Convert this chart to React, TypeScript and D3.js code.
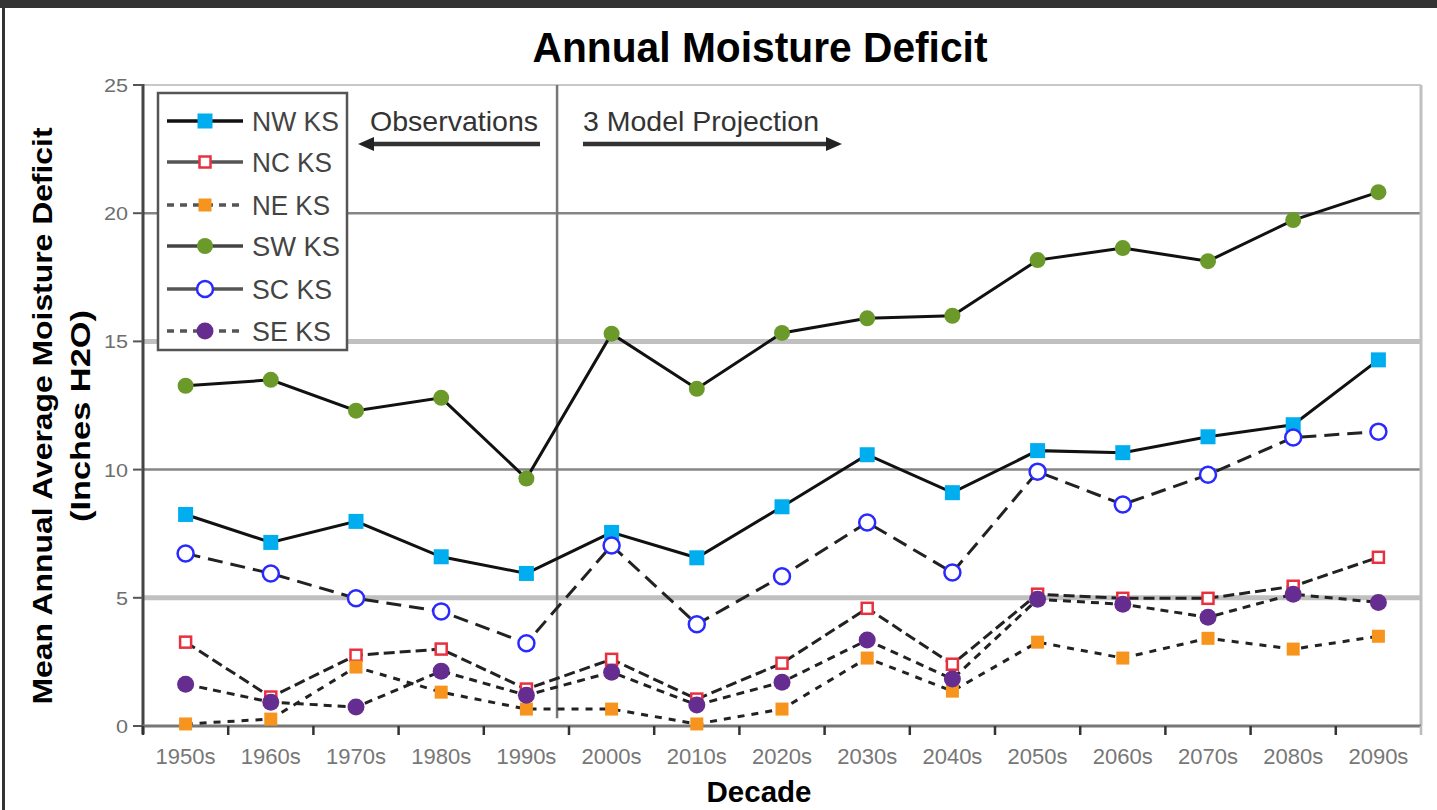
import React from 'react';
import * as d3 from 'd3';

// decades on the x axis
const decades = ['1950s', '1960s', '1970s', '1980s', '1990s', '2000s', '2010s', '2020s',
  '2030s', '2040s', '2050s', '2060s', '2070s', '2080s', '2090s'];

// mean annual average moisture deficit (inches H2O)
const nwKS = [8.25, 7.16, 7.98, 6.6, 5.95, 7.55, 6.56, 8.55, 10.58, 9.1, 10.74, 10.66, 11.28, 11.75, 14.28];
const ncKS = [3.27, 1.13, 2.76, 3.0, 1.44, 2.6, 1.05, 2.45, 4.59, 2.41, 5.14, 4.98, 4.98, 5.45, 6.58];
const neKS = [0.08, 0.27, 2.3, 1.32, 0.66, 0.66, 0.08, 0.66, 2.65, 1.36, 3.27, 2.65, 3.42, 3.0, 3.5];
const swKS = [13.27, 13.5, 12.3, 12.8, 9.65, 15.3, 13.15, 15.33, 15.9, 16.0, 18.17, 18.64, 18.13, 19.73, 20.82];
const scKS = [6.73, 5.95, 4.98, 4.47, 3.23, 7.04, 3.97, 5.84, 7.94, 5.99, 9.92, 8.64, 9.8, 11.25, 11.48];
const seKS = [1.63, 0.93, 0.74, 2.14, 1.2, 2.1, 0.82, 1.71, 3.35, 1.83, 4.94, 4.75, 4.24, 5.14, 4.82];

const yTicks = [0, 5, 10, 15, 20, 25];
const seriesNames = ['NW KS', 'NC KS', 'NE KS', 'SW KS', 'SC KS', 'SE KS'];

const FONT = '"Liberation Sans", Arial, sans-serif';

const series = [
  { name: seriesNames[0], values: nwKS, shape: 'square', fill: '#00aeef', stroke: 'none', line: '#111', dash: null, legendLine: '#111', legendDash: null, size: 15 },
  { name: seriesNames[1], values: ncKS, shape: 'square', fill: '#fff', stroke: '#e8303f', line: '#222', dash: '11,5', legendLine: '#555', legendDash: null, size: 11 },
  { name: seriesNames[2], values: neKS, shape: 'square', fill: '#f7941d', stroke: 'none', line: '#222', dash: '7,7', legendLine: '#555', legendDash: '7,6', size: 13 },
  { name: seriesNames[3], values: swKS, shape: 'circle', fill: '#6b9a2b', stroke: 'none', line: '#111', dash: null, legendLine: '#444', legendDash: null, size: 8 },
  { name: seriesNames[4], values: scKS, shape: 'circle', fill: '#fff', stroke: '#2a2aff', line: '#222', dash: '15,8', legendLine: '#555', legendDash: null, size: 8 },
  { name: seriesNames[5], values: seKS, shape: 'circle', fill: '#662d91', stroke: 'none', line: '#222', dash: '8,6', legendLine: '#555', legendDash: '7,6', size: 8.5 },
];

function Marker({ s, cx, cy }) {
  if (s.shape === 'square') {
    const sw = s.stroke === 'none' ? 0 : 2.5;
    return <rect x={cx - s.size / 2} y={cy - s.size / 2} width={s.size} height={s.size}
      fill={s.fill} stroke={s.stroke} strokeWidth={sw} />;
  }
  const sw = s.stroke === 'none' ? 0 : 2.5;
  return <circle cx={cx} cy={cy} r={s.size} fill={s.fill} stroke={s.stroke} strokeWidth={sw} />;
}

function Txt({ x, y, size, len, children, weight = 'normal', fill = '#333', anchor = 'middle', transform = undefined }) {
  return (
    <text x={x} y={y} fontSize={size} fontWeight={weight} fill={fill} textAnchor={anchor}
      fontFamily={FONT} textLength={len} lengthAdjust="spacingAndGlyphs" transform={transform}>
      {children}
    </text>
  );
}

export default function App() {
  const W = 1437, H = 810;
  const left = 143, right = 1421, top = 85, bottom = 726;

  const x = d3.scaleBand().domain(decades).range([left, right]).paddingInner(0).paddingOuter(0);
  const y = d3.scaleLinear().domain([0, 25]).range([bottom, top]);
  const cx = (d: string) => (x(d) as number) + x.bandwidth() / 2;

  const line = d3.line<number>()
    .x((_, i) => cx(decades[i]))
    .y((v) => y(v));

  // divider between observations and projections, a bit past the 1990s
  const divX = cx('1990s') + x.bandwidth() * 0.36;

  const gridStyle = (t: number) => {
    if (t === 20 || t === 10) return { stroke: '#858585', width: 2.5 };
    if (t === 15 || t === 5) return { stroke: '#c0c0c0', width: 5 };
    return { stroke: '#c8c8c8', width: 2 };
  };

  const legendX = 158, legendY = 93, legendW = 189, legendH = 257;
  const legendRows = [121, 162, 205, 246, 289, 331];
  const legendLens = [87, 80, 78, 88, 80, 79];

  return (
    <svg width={W} height={H} style={{ display: 'block', position: 'absolute', left: 0, top: 0 }}>
      <rect x={0} y={0} width={W} height={H} fill="#fff" />
      {/* frame */}
      <rect x={0} y={0} width={W} height={8} fill="#333" />
      <rect x={2} y={0} width={3} height={H} fill="#333" />

      <Txt x={760} y={62} size={42} len={455} weight="bold" fill="#000">Annual Moisture Deficit</Txt>

      {/* gridlines */}
      {yTicks.filter((t) => t > 0).map((t) => {
        const g = gridStyle(t);
        return <line key={t} x1={left} x2={right} y1={y(t)} y2={y(t)} stroke={g.stroke} strokeWidth={g.width} />;
      })}
      <line x1={right} x2={right} y1={y(25)} y2={bottom} stroke="#c0c0c0" strokeWidth={3} />
      <line x1={divX} x2={divX} y1={y(25)} y2={y(0.3)} stroke="#777" strokeWidth={2.5} />

      {/* y axis */}
      <line x1={left} x2={left} y1={y(25) - 1} y2={bottom + 8} stroke="#444" strokeWidth={3} />
      {yTicks.map((t) => (
        <g key={t}>
          <line x1={left - 10} x2={left} y1={y(t)} y2={y(t)} stroke="#555" strokeWidth={2} />
          <Txt x={128} y={y(t) + 7} size={19} len={t < 10 ? 12 : 24} anchor="end" fill="#6e6e6e">{String(t)}</Txt>
        </g>
      ))}

      {/* x axis */}
      <line x1={left} x2={right} y1={bottom} y2={bottom} stroke="#777" strokeWidth={3} />
      {decades.map((d) => (
        <line key={d} x1={x(d)} x2={x(d)} y1={bottom} y2={bottom + 9} stroke="#333" strokeWidth={2.5} />
      ))}
      <line x1={right} x2={right} y1={bottom} y2={bottom + 9} stroke="#bbb" strokeWidth={2.5} />
      {decades.map((d) => (
        <Txt key={d} x={cx(d)} y={764} size={22} len={60} fill="#777">{d}</Txt>
      ))}

      <Txt x={759} y={802} size={30} len={105} weight="bold" fill="#000">Decade</Txt>
      <Txt x={0} y={0} size={27} len={577} weight="bold" fill="#000" transform="translate(52,416) rotate(-90)">Mean Annual Average Moisture Deficit</Txt>
      <Txt x={0} y={0} size={27} len={212} weight="bold" fill="#000" transform="translate(90,416) rotate(-90)">(Inches H2O)</Txt>

      {/* series lines */}
      {series.map((s) => (
        <path key={s.name} d={line(s.values) as string} fill="none" stroke={s.line}
          strokeWidth={3} strokeDasharray={s.dash || undefined} />
      ))}
      {/* markers */}
      {series.map((s) => (
        <g key={s.name}>
          {s.values.map((v, i) => <Marker key={i} s={s} cx={cx(decades[i])} cy={y(v)} />)}
        </g>
      ))}

      {/* annotations */}
      <Txt x={454} y={131} size={28} len={168}>Observations</Txt>
      <line x1={372} x2={540} y1={144} y2={144} stroke="#333" strokeWidth={4.5} />
      <path d="M358,144 L374,137 L374,151 Z" fill="#222" />
      <Txt x={701} y={131} size={28} len={236}>3 Model Projection</Txt>
      <line x1={583} x2={828} y1={144} y2={144} stroke="#333" strokeWidth={4.5} />
      <path d="M842,144 L826,137 L826,151 Z" fill="#222" />

      {/* legend */}
      <rect x={legendX} y={legendY} width={legendW} height={legendH} fill="#fff" stroke="#555" strokeWidth={2.5} />
      {series.map((s, i) => (
        <g key={s.name}>
          <line x1={167} x2={243} y1={legendRows[i]} y2={legendRows[i]} stroke={s.legendLine}
            strokeWidth={3.5} strokeDasharray={s.legendDash || undefined} />
          <Marker s={s} cx={205} cy={legendRows[i]} />
          <Txt x={252} y={legendRows[i] + 10} size={27} len={legendLens[i]} anchor="start" fill="#444">{s.name}</Txt>
        </g>
      ))}
    </svg>
  );
}
